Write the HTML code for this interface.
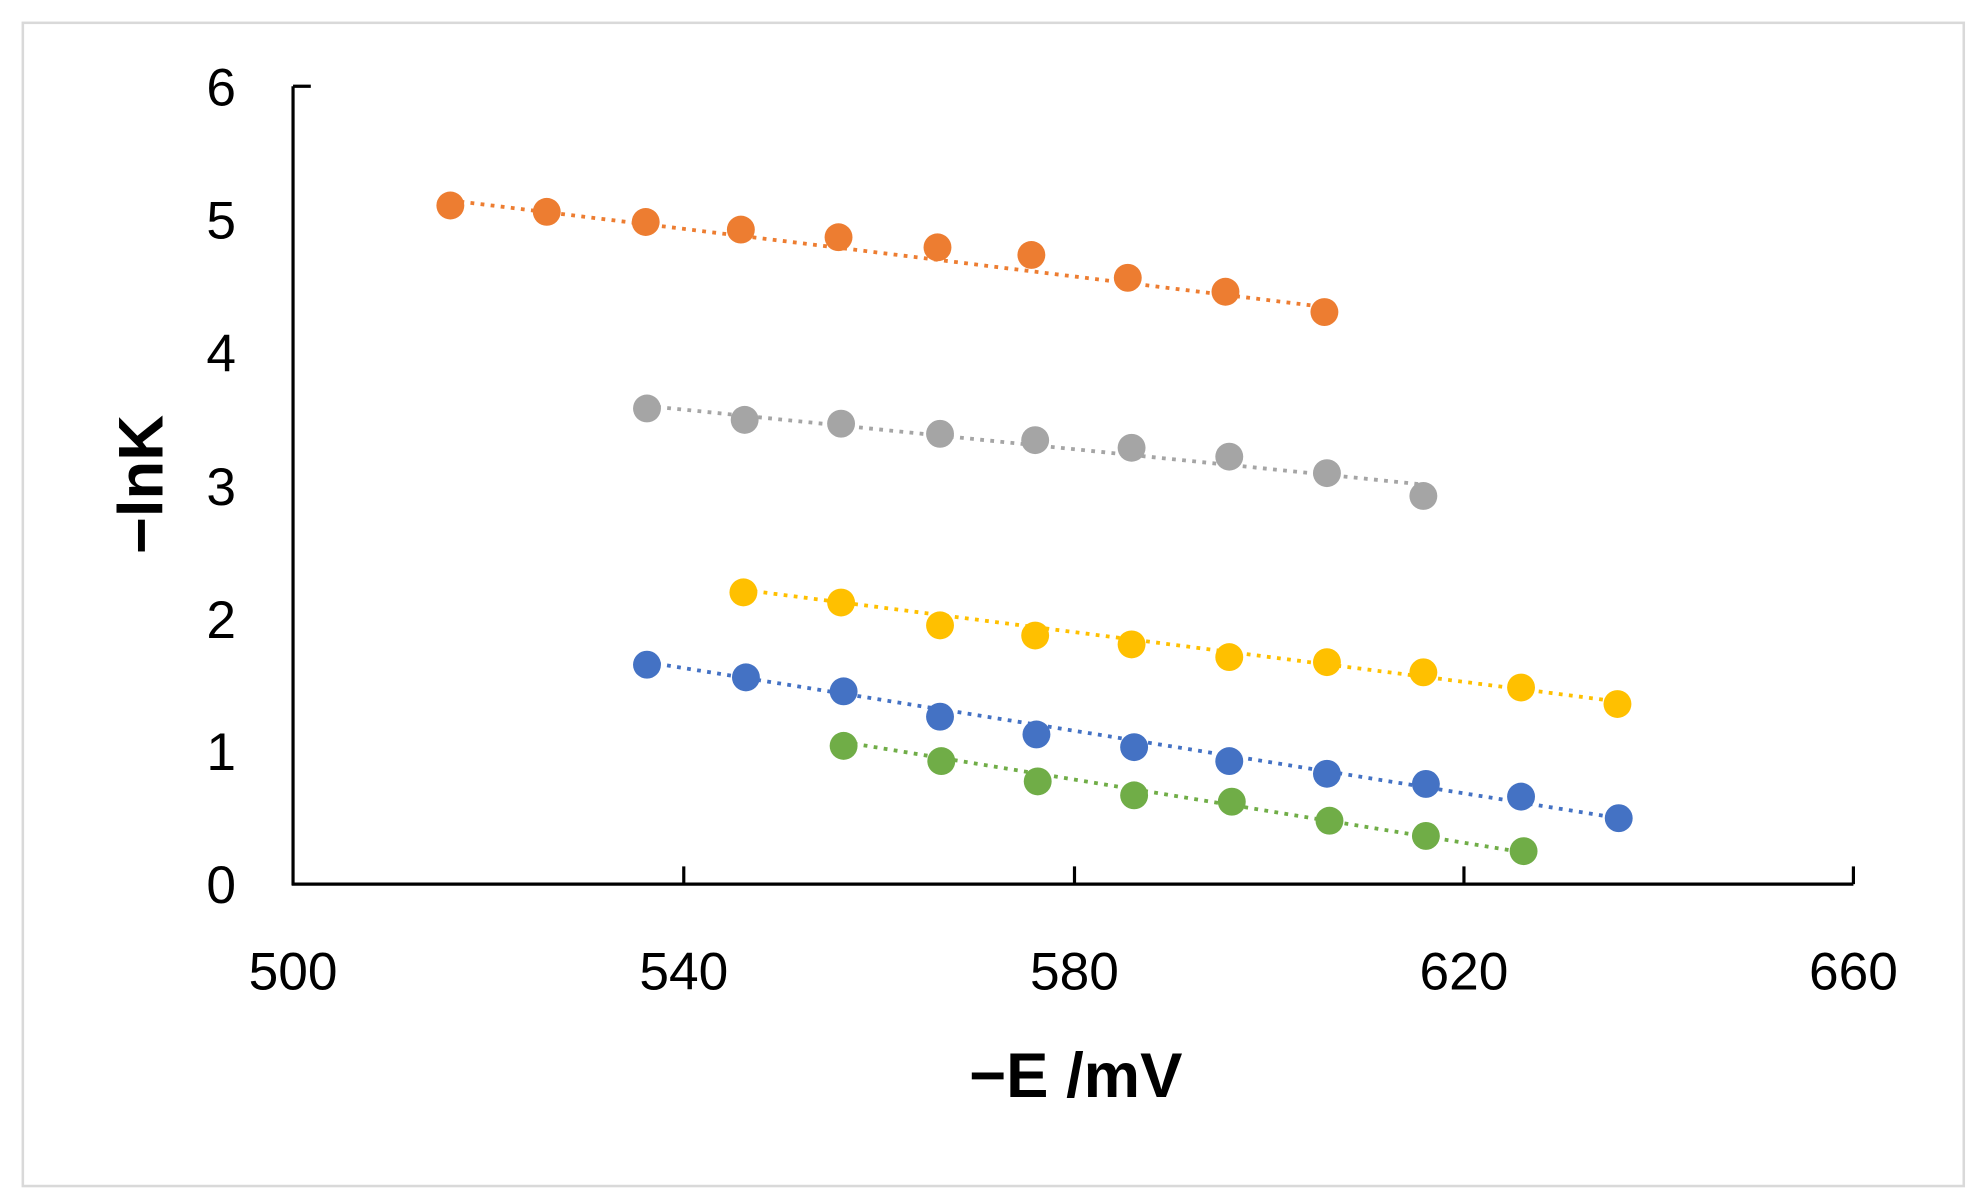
<!DOCTYPE html>
<html><head><meta charset="utf-8"><style>
html,body{margin:0;padding:0;background:#fff;}
svg{display:block;}
text{font-family:"Liberation Sans",sans-serif;fill:#000;}
</style></head><body>
<svg width="1979" height="1200" viewBox="0 0 1560 946" preserveAspectRatio="none">
<rect x="0" y="0" width="1560" height="946" fill="#fff"/>
<rect x="18" y="18" width="1530" height="917" fill="#fff" stroke="#d9d9d9" stroke-width="2"/>
<g stroke="#000" stroke-width="2.5" fill="none">
<line x1="231" y1="68" x2="231" y2="698"/>
<line x1="230" y1="697" x2="1461" y2="697"/>
<line x1="231" y1="68" x2="245" y2="68"/>
<line x1="539" y1="697" x2="539" y2="683"/>
<line x1="847" y1="697" x2="847" y2="683"/>
<line x1="1154" y1="697" x2="1154" y2="683"/>
<line x1="1461" y1="697" x2="1461" y2="683"/>
</g>
<g font-size="42" text-anchor="end">
<text x="186" y="712">0</text>
<text x="186" y="607">1</text>
<text x="186" y="503">2</text>
<text x="186" y="398">3</text>
<text x="186" y="293">4</text>
<text x="186" y="188">5</text>
<text x="186" y="83">6</text>
</g>
<g font-size="42" text-anchor="middle">
<text x="231" y="780">500</text>
<text x="539" y="780">540</text>
<text x="847" y="780">580</text>
<text x="1154" y="780">620</text>
<text x="1461" y="780">660</text>
</g>
<text x="848" y="865" font-size="50" font-weight="bold" text-anchor="middle">−E /mV</text>
<text transform="translate(128,382) rotate(-90)" font-size="50" font-weight="bold" text-anchor="middle">−lnK</text>
<g stroke-width="3" stroke-dasharray="3,5" fill="none">
<line x1="355" y1="158" x2="1044" y2="242" stroke="#ED7D31"/>
<line x1="510" y1="320" x2="1122" y2="382" stroke="#A5A5A5"/>
<line x1="586" y1="465" x2="1275" y2="553" stroke="#FFC000"/>
<line x1="510" y1="522" x2="1276" y2="645" stroke="#4472C4"/>
<line x1="665" y1="585" x2="1201" y2="672" stroke="#70AD47"/>
</g>
<g fill="#ED7D31">
<circle cx="355" cy="162" r="11"/><circle cx="431" cy="167" r="11"/><circle cx="509" cy="175" r="11"/><circle cx="584" cy="181" r="11"/><circle cx="661" cy="187" r="11"/><circle cx="739" cy="195" r="11"/><circle cx="813" cy="201" r="11"/><circle cx="889" cy="219" r="11"/><circle cx="966" cy="230" r="11"/><circle cx="1044" cy="246" r="11"/>
</g>
<g fill="#A5A5A5">
<circle cx="510" cy="322" r="11"/><circle cx="587" cy="331" r="11"/><circle cx="663" cy="334" r="11"/><circle cx="741" cy="342" r="11"/><circle cx="816" cy="347" r="11"/><circle cx="892" cy="353" r="11"/><circle cx="969" cy="360" r="11"/><circle cx="1046" cy="373" r="11"/><circle cx="1122" cy="391" r="11"/>
</g>
<g fill="#FFC000">
<circle cx="586" cy="467" r="11"/><circle cx="663" cy="475" r="11"/><circle cx="741" cy="493" r="11"/><circle cx="816" cy="501" r="11"/><circle cx="892" cy="508" r="11"/><circle cx="969" cy="518" r="11"/><circle cx="1046" cy="522" r="11"/><circle cx="1122" cy="530" r="11"/><circle cx="1199" cy="542" r="11"/><circle cx="1275" cy="555" r="11"/>
</g>
<g fill="#4472C4">
<circle cx="510" cy="524" r="11"/><circle cx="588" cy="534" r="11"/><circle cx="665" cy="545" r="11"/><circle cx="741" cy="565" r="11"/><circle cx="817" cy="579" r="11"/><circle cx="894" cy="589" r="11"/><circle cx="969" cy="600" r="11"/><circle cx="1046" cy="610" r="11"/><circle cx="1124" cy="618" r="11"/><circle cx="1199" cy="628" r="11"/><circle cx="1276" cy="645" r="11"/>
</g>
<g fill="#70AD47">
<circle cx="665" cy="588" r="11"/><circle cx="742" cy="600" r="11"/><circle cx="818" cy="616" r="11"/><circle cx="894" cy="627" r="11"/><circle cx="971" cy="632" r="11"/><circle cx="1048" cy="647" r="11"/><circle cx="1124" cy="659" r="11"/><circle cx="1201" cy="671" r="11"/>
</g>
</svg>
</body></html>
